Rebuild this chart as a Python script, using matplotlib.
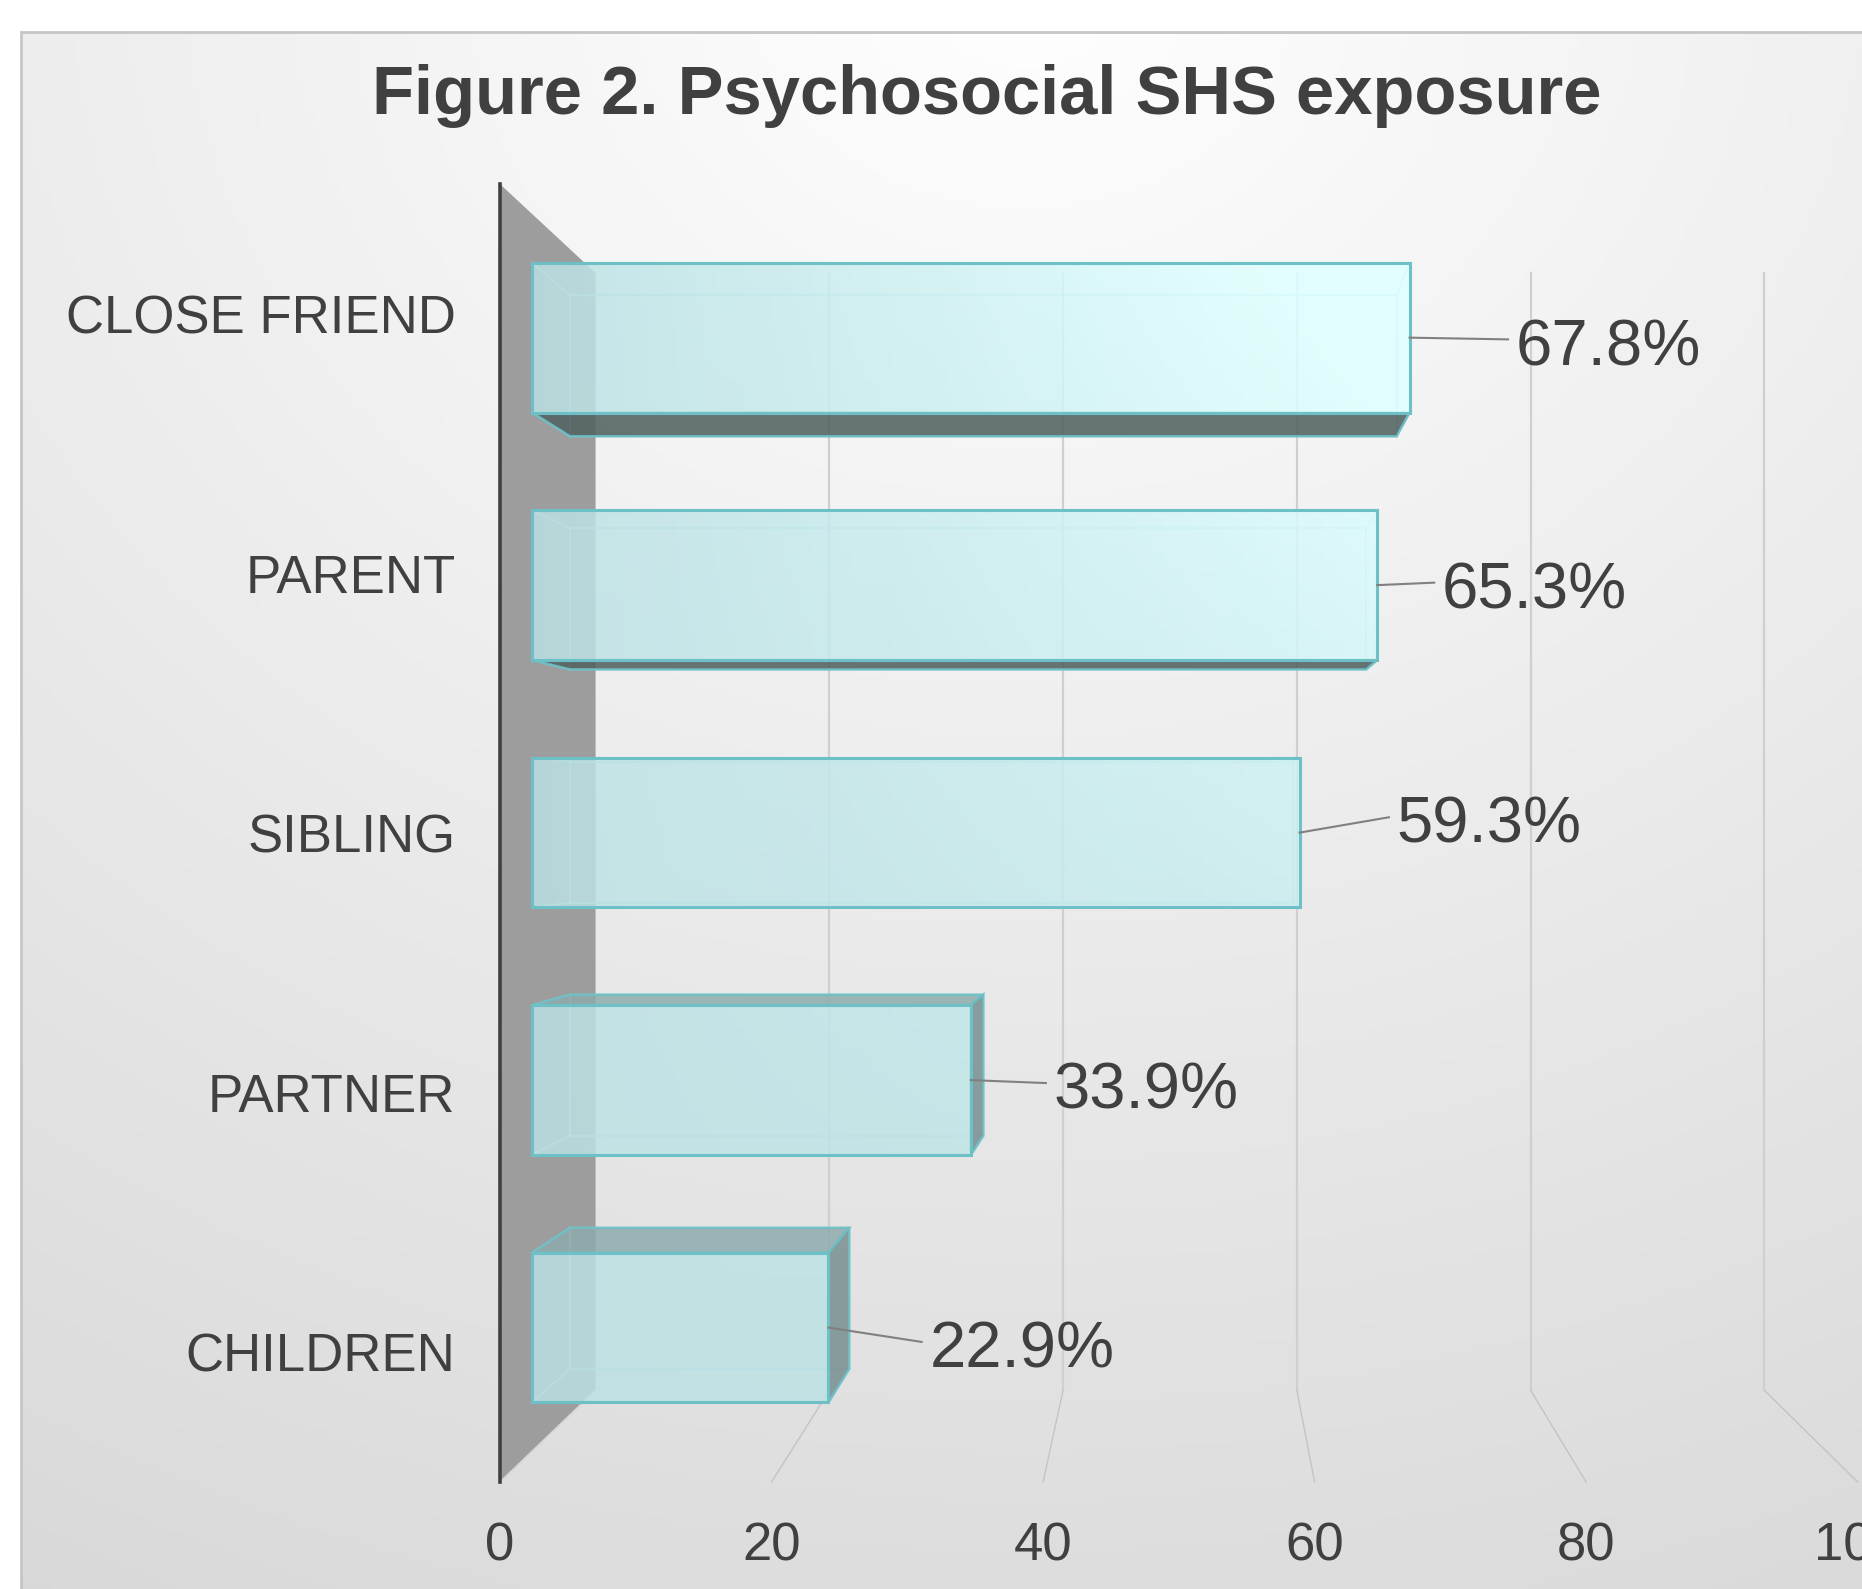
import numpy as np
import matplotlib
matplotlib.use("Agg")
import matplotlib.pyplot as plt
from matplotlib.patches import Polygon, Rectangle

plt.rcParams["font.family"] = ["Liberation Sans", "DejaVu Sans"]

TITLE = "Figure 2. Psychosocial SHS exposure"
categories = ["CHILDREN", "PARTNER", "SIBLING", "PARENT", "CLOSE FRIEND"]
values = [22.9, 33.9, 59.3, 65.3, 67.8]
value_labels = ["22.9%", "33.9%", "59.3%", "65.3%", "67.8%"]
x_ticks = [0, 20, 40, 60, 80, 100]
# leader line end, relative to the bar end (data units), moved by hand in the original
label_offsets = [(7.2, -0.058), (5.8, -0.012), (6.9, 0.062), (4.4, 0.01), (7.6, -0.007)]

TEXT = "#404040"
EDGE = "#6cc0c6"

# fake 3-D: depth k scales points around a vanishing centre, bar front face is k=1
CX, CY = 50.6, 2.04
K_FRONT, K_BAR_BACK, K_WALL = 1.049, 0.942, 0.903
BAR_H = 0.605
Y_LO, Y_HI = -0.5, len(categories) - 0.5


def proj(x, y, k):
    return (CX + k * (x - CX), CY + k * (y - CY))


fig = plt.figure(figsize=(18.62, 15.89), dpi=100)
fig.patch.set_facecolor("white")

# background with soft radial gradient inside the chart frame
bg = fig.add_axes([0, 0, 1, 1])
bg.set_xlim(0, 1)
bg.set_ylim(0, 1)
bg.axis("off")
fx0, fy1 = 21 / 1862, 1 - 32 / 1589
gx, gy = np.meshgrid(np.linspace(fx0, 1, 300), np.linspace(0, fy1, 300))
r = np.hypot(gx - 0.55, gy - 1.02)
shade = np.clip(1.0 - 0.13 * r, 0.85, 1.0)
bg.imshow(np.dstack([shade] * 3), extent=(fx0, 1, 0, fy1), origin="lower", aspect="auto", zorder=0)
bg.add_patch(Rectangle((fx0, -0.01), 1.1, fy1 + 0.01, fill=False, edgecolor="#c6c6c6", lw=2, zorder=1))
bg.set_xlim(0, 1)
bg.set_ylim(0, 1)

fig.text(0.530, 0.9395, TITLE, ha="center", va="center", fontsize=49.5,
         fontweight="bold", color=TEXT)

ax = fig.add_axes([421 / 1568, 1 - 1248 / 1338, 1 - 421 / 1568, (1248 - 155) / 1338])
ax.patch.set_alpha(0)
xlim = (proj(0, 0, K_FRONT)[0], 102.75)
ylim = (proj(0, Y_LO, K_FRONT)[1], proj(0, Y_HI, K_FRONT)[1])

# back wall + floor gridlines
for xv in x_ticks[1:]:
    xb, yb0 = proj(xv, Y_LO, K_WALL)
    _, yb1 = proj(xv, Y_HI, K_WALL)
    ax.plot([xb, xb], [yb0, yb1], color="#cfcfcf", lw=1.6, zorder=1, clip_on=False)
    xf, yf = proj(xv, Y_LO, K_FRONT)
    ax.plot([xb, xf], [yb0, yf], color="#c4c4c4", lw=1.0, zorder=1, clip_on=False)

# grey side wall at x=0
wall = [proj(0, Y_HI, K_FRONT), proj(0, Y_HI, K_WALL), proj(0, Y_LO, K_WALL), proj(0, Y_LO, K_FRONT)]
ax.add_patch(Polygon(wall, closed=True, facecolor="#9d9d9d", edgecolor="none", zorder=2, clip_on=False))
ax.plot([wall[2][0], wall[3][0]], [wall[2][1], wall[3][1]], color="#d6d6d6", lw=1.2, zorder=2)

ypos = np.arange(len(categories))

# hidden edges of the see-through boxes
for yc, v in zip(ypos, values):
    yb, yt = yc - BAR_H / 2, yc + BAR_H / 2
    back = [proj(0, yb, K_BAR_BACK), proj(v, yb, K_BAR_BACK), proj(v, yt, K_BAR_BACK), proj(0, yt, K_BAR_BACK)]
    ax.add_patch(Polygon(back, closed=True, fill=False, edgecolor="#a6dde1", lw=1.6, alpha=0.7, zorder=3))
    for cx_, cy_ in [(0, yb), (0, yt), (v, yb), (v, yt)]:
        p0 = proj(cx_, cy_, 1.0)
        p1 = proj(cx_, cy_, K_BAR_BACK)
        ax.plot([p0[0], p1[0]], [p0[1], p1[1]], color="#a6dde1", lw=1.4, alpha=0.7, zorder=3)

# visible side faces
for yc, v in zip(ypos, values):
    yb, yt = yc - BAR_H / 2, yc + BAR_H / 2
    if yb > CY:
        face = [proj(0, yb, 1.0), proj(v, yb, 1.0), proj(v, yb, K_BAR_BACK), proj(0, yb, K_BAR_BACK)]
        ax.add_patch(Polygon(face, closed=True, facecolor="#536262", alpha=0.88,
                             edgecolor=EDGE, lw=1.8, zorder=4))
    if yt < CY:
        face = [proj(0, yt, 1.0), proj(v, yt, 1.0), proj(v, yt, K_BAR_BACK), proj(0, yt, K_BAR_BACK)]
        ax.add_patch(Polygon(face, closed=True, facecolor="#8eabad", alpha=0.85,
                             edgecolor=EDGE, lw=1.8, zorder=4))
    if v < CX:
        face = [proj(v, yb, 1.0), proj(v, yt, 1.0), proj(v, yt, K_BAR_BACK), proj(v, yb, K_BAR_BACK)]
        ax.add_patch(Polygon(face, closed=True, facecolor="#7b9193", alpha=0.88,
                             edgecolor=EDGE, lw=1.8, zorder=4))

# front faces with a light gradient
bars = ax.barh(ypos, values, height=BAR_H, left=0, facecolor="none", edgecolor=EDGE, lw=2.2, zorder=6)
ny, nx = 120, 240
u = np.linspace(0, 1, nx)[None, :] * np.ones((ny, 1))
w = np.linspace(0, 1, ny)[:, None] * np.ones((1, nx))
xs = xlim[0] + u * (xlim[1] - xlim[0])
ys = ylim[0] + w * (ylim[1] - ylim[0])
t = np.clip((xs / 60.0) * (ys / 4.0), 0, 1)
c0 = np.array([0.735, 0.885, 0.895])
c1 = np.array([0.875, 1.0, 1.0])
grad = c0[None, None, :] * (1 - t[..., None]) + c1[None, None, :] * t[..., None]
for b in bars:
    im = ax.imshow(grad, extent=(xlim[0], xlim[1], ylim[0], ylim[1]), origin="lower",
                   aspect="auto", alpha=0.84, zorder=5)
    im.set_clip_path(b)

# value labels with leader lines
for yc, v, lab, (dx, dy) in zip(ypos, values, value_labels, label_offsets):
    ax.plot([v, v + dx], [yc, yc + dy], color="#808080", lw=1.5, zorder=7)
    ax.text(v + dx + 0.6, yc + dy - 0.035, lab, ha="left", va="center", fontsize=47,
            color=TEXT, zorder=8)

ax.set_xlim(*xlim)
ax.set_ylim(*ylim)

ax.set_xticks([proj(xv, Y_LO, K_FRONT)[0] for xv in x_ticks], [str(xv) for xv in x_ticks])
ax.set_yticks([proj(0, yv, K_FRONT)[1] for yv in ypos], categories)
ax.tick_params(axis="x", length=0, pad=28, labelsize=38, labelcolor=TEXT)
ax.tick_params(axis="y", length=0, pad=32, labelsize=38, labelcolor=TEXT)
for side in ["top", "right", "bottom"]:
    ax.spines[side].set_visible(False)
ax.spines["left"].set_color("#404040")
ax.spines["left"].set_linewidth(2.6)
ax.spines["left"].set_zorder(9)

fig.savefig("out.png", dpi=100)
